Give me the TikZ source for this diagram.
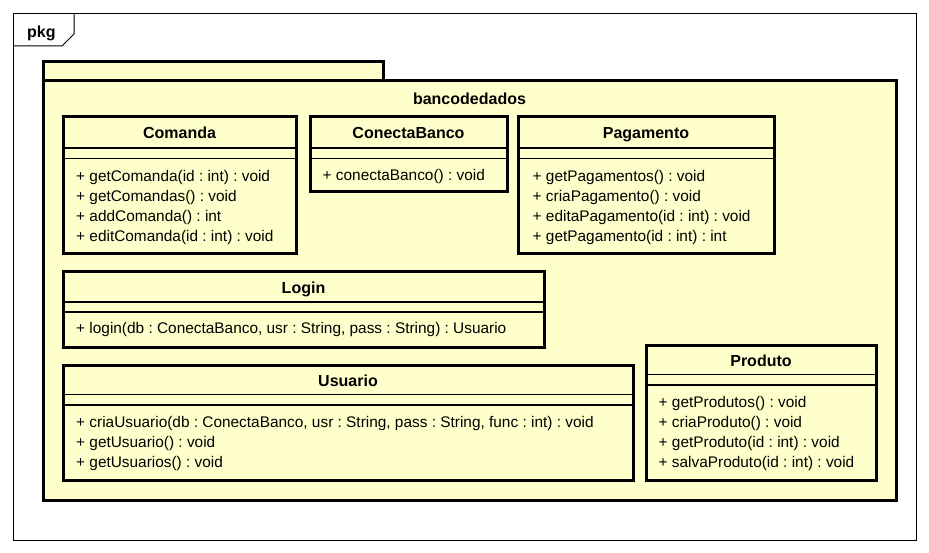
\documentclass[tikz,border=0pt]{standalone}
\usepackage{fontspec}
\setmainfont{Liberation Sans}
\usetikzlibrary{positioning}
\definecolor{umlfill}{HTML}{FFFFCC}
\frenchspacing

\begin{document}
\begin{tikzpicture}[x=1pt, y=-1pt,
  frame/.style={draw, line width=1pt},
  cls/.style={draw, line width=3pt, fill=umlfill, anchor=north west, inner sep=0pt, outer sep=0pt},
  clsname/.style={font=\fontsize{16}{19}\selectfont\bfseries, anchor=base, inner sep=0pt},
  op/.style={font=\fontsize{15.4}{20}\selectfont, anchor=base west, inner sep=0pt},
  sep/.style={line width=1.2pt}]

\useasboundingbox (0,0) rectangle (929,553);

% outer pkg frame
\draw[frame] (13.5,13.5) rectangle (916,540.5);
\draw[frame] (13.5,46) -- (62,46) -- (74,34) -- (74,13.5);
\node[clsname, anchor=base west] (pkg) at (27,37.5) {pkg};

% package bancodedados
\node[cls, minimum width=340pt, minimum height=19pt] (tab) at (43,62) {};
\node[cls, minimum width=853pt, minimum height=419pt] (bancodedados) at (43,81) {};
\node[clsname] (bancodedados_name) at (469.5,104.3) {bancodedados};

% Comanda
\node[cls, minimum width=233pt, minimum height=137pt] (comanda) at (63,117) {};
\node[clsname] (comanda_name) at (179.5,139) {Comanda};
\draw[sep] ([yshift=-31pt]comanda.north west) -- ([yshift=-31pt]comanda.north east);
\draw[sep] ([yshift=-41.5pt]comanda.north west) -- ([yshift=-41.5pt]comanda.north east);
\foreach \txt [count=\i from 0] in {{+ getComanda(id : int) : void},{+ getComandas() : void},{+ addComanda() : int},{+ editComanda(id : int) : void}}
  \node[op] (comanda_op\i) at (76,181.5+20*\i) {\txt};

% ConectaBanco
\node[cls, minimum width=197pt, minimum height=75pt] (conecta) at (310,117) {};
\node[clsname] (conecta_name) at (408.5,138.5) {ConectaBanco};
\draw[sep] ([yshift=-31pt]conecta.north west) -- ([yshift=-31pt]conecta.north east);
\draw[sep] ([yshift=-41.5pt]conecta.north west) -- ([yshift=-41.5pt]conecta.north east);
\node[op] (conecta_op0) at (322.5,181) {+ conectaBanco() : void};

% Pagamento
\node[cls, minimum width=256pt, minimum height=137pt] (pagamento) at (518,117) {};
\node[clsname] (pagamento_name) at (646,139) {Pagamento};
\draw[sep] ([yshift=-31pt]pagamento.north west) -- ([yshift=-31pt]pagamento.north east);
\draw[sep] ([yshift=-41.5pt]pagamento.north west) -- ([yshift=-41.5pt]pagamento.north east);
\foreach \txt [count=\i from 0] in {{+ getPagamentos() : void},{+ criaPagamento() : void},{+ editaPagamento(id : int) : void},{+ getPagamento(id : int) : int}}
  \node[op] (pagamento_op\i) at (532.5,181.5+20*\i) {\txt};

% Login
\node[cls, minimum width=481pt, minimum height=75pt] (login) at (63,272) {};
\node[clsname] (login_name) at (303.5,293.3) {Login};
\draw[sep] ([yshift=-30pt]login.north west) -- ([yshift=-30pt]login.north east);
\draw[sep] ([yshift=-40pt]login.north west) -- ([yshift=-40pt]login.north east);
\node[op] (login_op0) at (76,334) {+ login(db : ConectaBanco, usr : String, pass : String) : Usuario};

% Usuario
\node[cls, minimum width=570pt, minimum height=115pt] (usuario) at (63,365) {};
\node[clsname] (usuario_name) at (348,386.7) {Usuario};
\draw[sep] ([yshift=-29.5pt]usuario.north west) -- ([yshift=-29.5pt]usuario.north east);
\draw[sep] ([yshift=-40pt]usuario.north west) -- ([yshift=-40pt]usuario.north east);
\foreach \txt [count=\i from 0] in {{+ criaUsuario(db : ConectaBanco, usr : String, pass : String, func : int) : void},{+ getUsuario() : void},{+ getUsuarios() : void}}
  \node[op] (usuario_op\i) at (76,427.3+20*\i) {\txt};

% Produto
\node[cls, minimum width=230pt, minimum height=135pt] (produto) at (646,345) {};
\node[clsname] (produto_name) at (761,366.7) {Produto};
\draw[sep] ([yshift=-29.5pt]produto.north west) -- ([yshift=-29.5pt]produto.north east);
\draw[sep] ([yshift=-40pt]produto.north west) -- ([yshift=-40pt]produto.north east);
\foreach \txt [count=\i from 0] in {{+ getProdutos() : void},{+ criaProduto() : void},{+ getProduto(id : int) : void},{+ salvaProduto(id : int) : void}}
  \node[op] (produto_op\i) at (658.5,407.3+20*\i) {\txt};
\end{tikzpicture}
\end{document}
